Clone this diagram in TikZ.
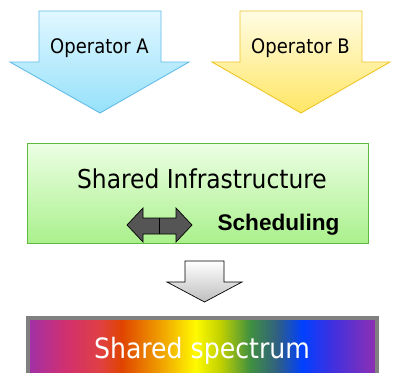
\documentclass[tikz,border=0pt]{standalone}
\usepackage{fontspec}
\setmainfont{DejaVu Sans Condensed}
\newfontfamily\boldsans{Liberation Sans}[BoldFont={* Bold}]
\usetikzlibrary{shadings}

% palette
\definecolor{opAtop}{RGB}{224,247,255}
\definecolor{opAbot}{RGB}{150,225,250}
\definecolor{opAline}{RGB}{100,188,232}
\definecolor{opBtop}{RGB}{255,252,228}
\definecolor{opBbot}{RGB}{255,230,100}
\definecolor{opBline}{RGB}{238,198,40}
\definecolor{infratop}{RGB}{236,255,228}
\definecolor{infrabot}{RGB}{170,240,140}
\definecolor{infraline}{RGB}{96,186,66}
\definecolor{grayarrow}{RGB}{190,190,190}
\definecolor{schedfill}{RGB}{85,85,85}
\definecolor{specline}{RGB}{128,128,128}

% spectrum colours, left to right
\definecolor{sp1}{RGB}{160,48,168}
\definecolor{sp2}{RGB}{208,48,112}
\definecolor{sp3}{RGB}{224,64,64}
\definecolor{sp4}{RGB}{224,68,0}
\definecolor{sp5}{RGB}{240,160,0}
\definecolor{sp6}{RGB}{255,250,0}
\definecolor{sp7}{RGB}{192,208,0}
\definecolor{sp8}{RGB}{64,144,64}
\definecolor{sp9}{RGB}{48,96,128}
\definecolor{sp10}{RGB}{0,64,255}
\definecolor{sp11}{RGB}{64,48,224}
\definecolor{sp12}{RGB}{144,48,176}

\pgfdeclarehorizontalshading{spectrum}{100bp}{%
  color(0bp)=(sp1); color(25bp)=(sp1); color(30.3bp)=(sp2);
  color(35.5bp)=(sp3); color(38.4bp)=(sp4); color(44bp)=(sp5);
  color(49bp)=(sp6); color(52.6bp)=(sp7); color(56.8bp)=(sp8);
  color(60.6bp)=(sp9); color(64.3bp)=(sp10); color(68.6bp)=(sp11);
  color(75bp)=(sp12); color(100bp)=(sp12)}

\tikzset{
  optext/.style={font=\fontsize{20}{24}\selectfont, anchor=base, inner sep=0pt},
  bigtext/.style={font=\fontsize{26}{30}\selectfont, anchor=base, inner sep=0pt},
  spectext/.style={font=\fontsize{28}{32}\selectfont, anchor=base, inner sep=0pt, text=white},
  schedtext/.style={font=\boldsans\bfseries\fontsize{22.6}{26}\selectfont, anchor=base, inner sep=0pt},
}

\begin{document}
\begin{tikzpicture}[x=1pt, y=-1pt, line join=miter]
\useasboundingbox (0,0) rectangle (393,372);
\clip (0,0) rectangle (393,372);
\fill[white] (0,0) rectangle (393,372);

% Operator A block arrow
\draw[opAline, line width=0.9pt, top color=opAtop, bottom color=opAbot]
  (39,11) -- (161,11) -- (161,62) -- (189,62) -- (100,113) -- (10,62) -- (39,62) -- cycle;
\node[optext] (opA) at (99.5,53) {Operator A};

% Operator B block arrow
\draw[opBline, line width=0.9pt, top color=opBtop, bottom color=opBbot]
  (240,11) -- (362,11) -- (362,62) -- (390,62) -- (301,113) -- (212,62) -- (240,62) -- cycle;
\node[optext] (opB) at (300.5,53) {Operator B};

% shared infrastructure box
\draw[infraline, line width=0.9pt, top color=infratop, bottom color=infrabot]
  (27,143) rectangle (368,243.5);
\node[bigtext] (infra) at (202,188) {Shared Infrastructure};

% scheduling double arrow
\draw[black, line width=0.7pt, fill=schedfill]
  (127,225) -- (143,208) -- (143,218) -- (176,218) -- (176,208) -- (192,225)
  -- (176,242) -- (176,234) -- (143,234) -- (143,242) -- cycle;
\draw[black, line width=0.8pt] (159.5,218) -- (159.5,234);
\node[schedtext] (sched) at (278.5,230) {Scheduling};

% gray down arrow
\draw[black, line width=0.7pt, top color=white, bottom color=grayarrow]
  (185,261) -- (224,261) -- (224,282) -- (242,282) -- (204.5,302) -- (167,282) -- (185,282) -- cycle;

% shared spectrum band
\shade[shading=spectrum] (28,318) rectangle (377,380);
\draw[specline, line width=3.6pt] (28,318) rectangle (377,380);
\node[spectext] (spec) at (202,358) {Shared spectrum};
\end{tikzpicture}
\end{document}
